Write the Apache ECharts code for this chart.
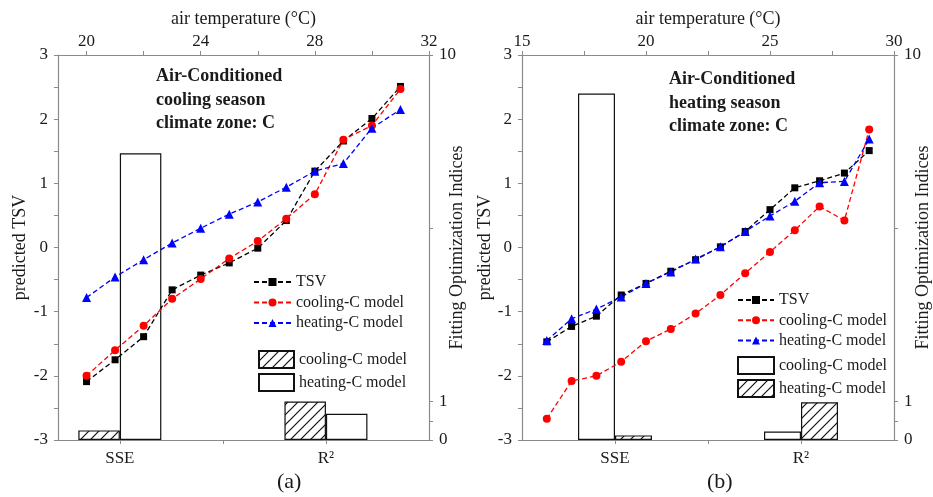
<!DOCTYPE html>
<html><head><meta charset="utf-8">
<script src="https://cdn.jsdelivr.net/npm/echarts@6/dist/echarts.min.js"></script>
<style>html,body{margin:0;padding:0;background:#fff}#c{width:933px;height:497px}</style>
</head><body><div id="c"></div>
<script>
// ---------- data ----------
const tempsA = [20,21,22,23,24,25,26,27,28,29,30,31];
const tsvA   = [-2.09,-1.75,-1.39,-0.66,-0.43,-0.24,-0.01,0.42,1.19,1.66,2.01,2.51];
const coolA  = [-2.00,-1.60,-1.22,-0.80,-0.49,-0.17,0.10,0.45,0.83,1.68,1.90,2.47];
const heatA  = [-0.78,-0.46,-0.19,0.07,0.30,0.52,0.71,0.94,1.19,1.31,1.86,2.15];

const tempsB = [16,17,18,19,20,21,22,23,24,25,26,27,28,29];
const tsvB   = [-1.47,-1.23,-1.07,-0.74,-0.56,-0.37,-0.19,0.01,0.25,0.59,0.93,1.04,1.16,1.51];
const coolB  = [-2.67,-2.08,-2.00,-1.78,-1.46,-1.27,-1.03,-0.74,-0.40,-0.07,0.27,0.64,0.42,1.84];
const heatB  = [-1.45,-1.11,-0.96,-0.77,-0.56,-0.38,-0.18,0.01,0.25,0.49,0.72,1.01,1.03,1.69];

const barCats = ['SSE','R²'];
const barCatPos = [1,3];
const barCoolA = [0.25, 1.00];
const barHeatA = [7.45, 0.68];
const barCoolB = [9.00, 0.22];
const barHeatB = [0.12, 0.98];

const tsvTicks = [-3,-2,-1,0,1,2,3];
const idxTicks = [0,0.5,1,5.5,10];
const idxLabels = [0,1,10];
const tempTicksA = [20,22,24,26,28,30,32];
const tempLabelsA = [20,24,28,32];
const tempTicksB = [15,17.5,20,22.5,25,27.5,30];
const tempLabelsB = [15,20,25,30];

// ---------- style ----------
const FONT = 'Liberation Serif';
const AX = '#8a8a8a';
const TXT = '#1a1a1a';

function hatch(){
  const c=document.createElement('canvas'); c.width=c.height=10;
  const g=c.getContext('2d'); g.fillStyle='#fff'; g.fillRect(0,0,10,10);
  g.strokeStyle='#111'; g.lineWidth=1.2;
  g.beginPath();
  g.moveTo(-1,11); g.lineTo(11,-1);
  g.moveTo(-1,1); g.lineTo(1,-1);
  g.moveTo(9,11); g.lineTo(11,9);
  g.stroke();
  return {image:c, repeat:'repeat'};
}
const HATCH = hatch();
const OPEN = 'rgba(255,255,255,0)';

const axLine = {show:true, onZero:false, lineStyle:{color:AX, width:1.2}};
const axTick = {show:true, inside:false, length:4, lineStyle:{color:AX}};
const lblStyle = {fontFamily:FONT, fontSize:17, color:TXT};
const nameStyle = {fontFamily:FONT, fontSize:18, color:TXT};

function zip(xs, ys){ return xs.map((x,i)=>[x, ys[i]]); }

const grids = [
  {left:58, top:55, width:371, height:385},
  {left:522, top:55, width:372, height:385}
];

function panelAxes(gi, tmin, tmax, tTicks, tLabels, bmin, bmax, rGap, lGap){
  const xAxes = [
    { // bottom bar axis
      type:'value', gridIndex:gi, position:'bottom', min:bmin, max:bmax,
      axisLine:axLine, splitLine:{show:false},
      axisTick:Object.assign({}, axTick, {customValues:[1,2,3]}),
      axisLabel:Object.assign({}, lblStyle, {customValues:barCatPos, margin:10,
        formatter:v=>barCats[barCatPos.indexOf(v)] ?? ''})
    },
    { // top temperature axis
      type:'value', gridIndex:gi, position:'top', min:tmin, max:tmax,
      name:'air temperature (°C)', nameLocation:'middle', nameGap:27, nameTextStyle:nameStyle,
      nameMoveOverlap:false,
      axisLine:axLine, splitLine:{show:false},
      axisTick:Object.assign({}, axTick, {customValues:tTicks}),
      axisLabel:Object.assign({}, lblStyle, {customValues:tLabels, margin:5})
    }
  ];
  const yAxes = [
    {
      type:'value', gridIndex:gi, position:'left', min:-3, max:3,
      name:'predicted TSV', nameLocation:'middle', nameGap:lGap, nameRotate:90, nameTextStyle:nameStyle,
      nameMoveOverlap:false,
      axisLine:axLine, splitLine:{show:false},
      axisTick:Object.assign({}, axTick, {customValues:[-3,-2.5,-2,-1.5,-1,-0.5,0,0.5,1,1.5,2,2.5,3]}),
      axisLabel:Object.assign({}, lblStyle, {customValues:tsvTicks, margin:10})
    },
    {
      type:'value', gridIndex:gi, position:'right', min:0, max:10,
      name:'Fitting Optimization Indices', nameLocation:'middle', nameGap:rGap, nameRotate:90, nameTextStyle:nameStyle,
      nameMoveOverlap:false,
      axisLine:axLine, splitLine:{show:false},
      axisTick:Object.assign({}, axTick, {customValues:idxTicks}),
      axisLabel:Object.assign({}, lblStyle, {customValues:idxLabels, margin:10})
    }
  ];
  return {xAxes, yAxes};
}

const pa = panelAxes(0, 19, 32, tempTicksA, tempLabelsA, 0.4, 4, 19, 29);
const pb = panelAxes(1, 15, 30, tempTicksB, tempLabelsB, 0, 4, 20, 28);

function lineSeries(name, xi, yi, xs, ys, color, symbol, size){
  return {
    type:'line', name, xAxisIndex:xi, yAxisIndex:yi, data:zip(xs, ys),
    symbol, symbolSize:size, z:5,
    lineStyle:{color, width:1.3, type:[5,3]},
    itemStyle:{color}
  };
}
function barSeries(name, xi, yi, vals, fill, w){
  return {
    type:'bar', name, xAxisIndex:xi, yAxisIndex:yi, data:zip(barCatPos, vals),
    barWidth:w, barGap:'0%', z:2,
    itemStyle:{color:fill, borderColor:'#111', borderWidth:1.2}
  };
}

const series = [
  barSeries('a|bar|cooling-C model', 0, 1, barCoolA, HATCH, 41.5),
  barSeries('a|bar|heating-C model', 0, 1, barHeatA, OPEN, 41.5),
  lineSeries('a|line|TSV', 1, 0, tempsA, tsvA, '#000', 'rect', 7),
  lineSeries('a|line|cooling-C model', 1, 0, tempsA, coolA, '#ff0000', 'circle', 8),
  lineSeries('a|line|heating-C model', 1, 0, tempsA, heatA, '#0000ff', 'triangle', 9),
  barSeries('b|bar|cooling-C model', 2, 3, barCoolB, OPEN, 37),
  barSeries('b|bar|heating-C model', 2, 3, barHeatB, HATCH, 37),
  lineSeries('b|line|TSV', 3, 2, tempsB, tsvB, '#000', 'rect', 7),
  lineSeries('b|line|cooling-C model', 3, 2, tempsB, coolB, '#ff0000', 'circle', 8),
  lineSeries('b|line|heating-C model', 3, 2, tempsB, heatB, '#0000ff', 'triangle', 9)
];

const fmt = n => n.split('|')[2];
const legTxt = {fontFamily:FONT, fontSize:16, color:TXT, lineHeight:16};

const option = {
  animation:false,
  backgroundColor:'#fff',
  grid:grids,
  xAxis:[...pa.xAxes, ...pb.xAxes],
  yAxis:[...pa.yAxes, ...pb.yAxes],
  series,
  title:[
    {text:'Air-Conditioned\ncooling season\nclimate zone: C', left:156, top:65, padding:0,
     textStyle:{fontFamily:FONT, fontWeight:'bold', fontSize:18, lineHeight:23.5, color:TXT}},
    {text:'Air-Conditioned\nheating season\nclimate zone: C', left:669, top:68, padding:0,
     textStyle:{fontFamily:FONT, fontWeight:'bold', fontSize:18, lineHeight:23.5, color:TXT}},
    {text:'(a)', left:277, top:471, padding:0, textStyle:{fontFamily:FONT, fontWeight:'normal', fontSize:22, color:TXT}},
    {text:'(b)', left:707, top:471, padding:0, textStyle:{fontFamily:FONT, fontWeight:'normal', fontSize:22, color:TXT}}
  ],
  legend:[
    {data:['a|line|TSV','a|line|cooling-C model','a|line|heating-C model'], orient:'vertical',
     left:253, top:274, padding:0, itemWidth:37, itemHeight:10, itemGap:4.5, formatter:fmt, textStyle:legTxt, selectedMode:false},
    {data:['a|bar|cooling-C model','a|bar|heating-C model'], orient:'vertical', icon:'rect',
     left:258, top:350, padding:0, itemWidth:35, itemHeight:17, itemGap:4, formatter:fmt, textStyle:legTxt, selectedMode:false},
    {data:['b|line|TSV','b|line|cooling-C model','b|line|heating-C model'], orient:'vertical',
     left:737, top:292, padding:0, itemWidth:36, itemHeight:10, itemGap:4.3, formatter:fmt, textStyle:legTxt, selectedMode:false},
    {data:['b|bar|cooling-C model','b|bar|heating-C model'], orient:'vertical', icon:'rect',
     left:737, top:356, padding:0, itemWidth:36, itemHeight:17, itemGap:4, formatter:fmt, textStyle:legTxt, selectedMode:false}
  ]
};

const chart = echarts.init(document.getElementById('c'), null, {renderer:'canvas'});
chart.setOption(option);
</script>
</body></html>
